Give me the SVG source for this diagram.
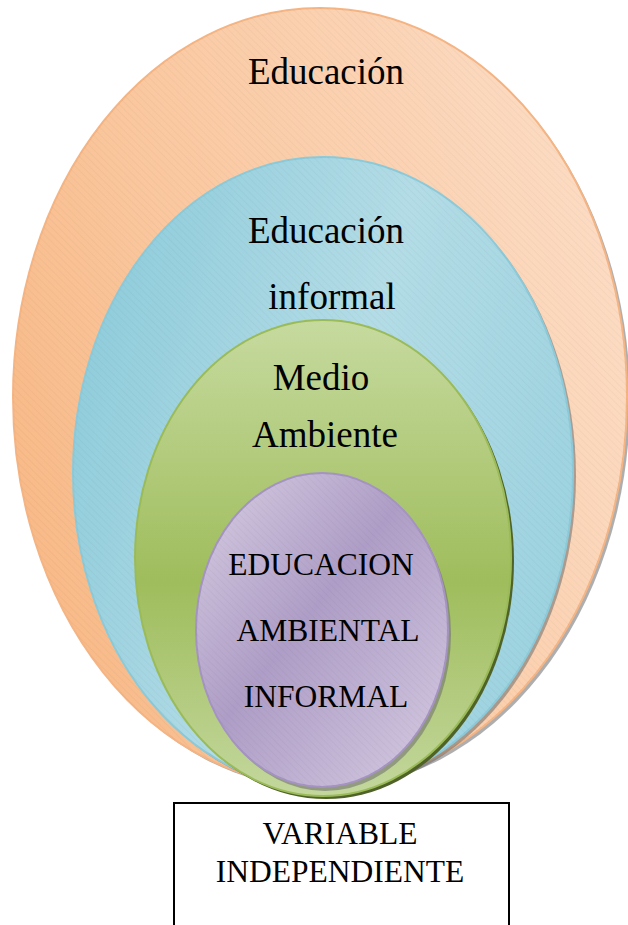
<svg xmlns="http://www.w3.org/2000/svg" width="628" height="925" viewBox="0 0 628 925">
<style>
.t{font-family:"Liberation Serif","Times New Roman",serif;fill:#000;text-anchor:middle}
.big{font-size:37px}
.cap{font-size:31.5px}
.shadow{fill:#6b6b6b;opacity:0.55}
</style>
<defs>
<linearGradient id="gOrange" x1="0" y1="0.6" x2="1" y2="0.2">
<stop offset="0" stop-color="#F8BA88"/>
<stop offset="0.35" stop-color="#FAC8A0"/>
<stop offset="1" stop-color="#FCDDC6"/>
</linearGradient>
<linearGradient id="gBlue" x1="0" y1="0.3" x2="1" y2="0.7">
<stop offset="0" stop-color="#8FCCDB"/>
<stop offset="0.5" stop-color="#B3DCE6"/>
<stop offset="1" stop-color="#9BD2DF"/>
</linearGradient>
<linearGradient id="gGreen" x1="0" y1="0" x2="0" y2="1">
<stop offset="0" stop-color="#C6DA9F"/>
<stop offset="0.55" stop-color="#9FBD5C"/>
<stop offset="1" stop-color="#C3D79D"/>
</linearGradient>
<linearGradient id="gPurple" x1="0" y1="0" x2="1" y2="1">
<stop offset="0" stop-color="#D8CFE3"/>
<stop offset="0.45" stop-color="#AE9DC6"/>
<stop offset="1" stop-color="#D6CCE2"/>
</linearGradient>
<pattern id="hatch" width="5" height="5" patternUnits="userSpaceOnUse" patternTransform="rotate(-45)">
<line x1="0" y1="0" x2="0" y2="5" stroke="#000" stroke-opacity="0.05" stroke-width="1"/>
</pattern>
</defs>

<g id="educacion">
<ellipse class="shadow" cx="323" cy="400" rx="307" ry="389"/>
<ellipse cx="320" cy="397" rx="307" ry="389" fill="url(#gOrange)" stroke="#F5B483" stroke-width="2"/>
<ellipse cx="320" cy="397" rx="307" ry="389" fill="url(#hatch)"/>
<text class="t big" x="326" y="84">Educación</text>
</g>

<g id="educacion-informal">
<ellipse class="shadow" cx="326" cy="476" rx="250" ry="316"/>
<ellipse cx="323" cy="473" rx="250" ry="316" fill="url(#gBlue)" stroke="#8CCAD9" stroke-width="2"/>
<ellipse cx="323" cy="473" rx="250" ry="316" fill="url(#hatch)"/>
<text class="t big" x="326" y="243">Educación</text>
<text class="t big" x="332" y="309">informal</text>
</g>

<g id="medio-ambiente">
<ellipse cx="326" cy="561" rx="188" ry="238" fill="#4F6228"/>
<ellipse cx="323" cy="558" rx="188" ry="238" fill="url(#gGreen)" stroke="#9BBB59" stroke-width="2"/>
<text class="t big" x="321" y="390">Medio</text>
<text class="t big" x="325" y="447">Ambiente</text>
</g>

<g id="educacion-ambiental-informal">
<ellipse class="shadow" cx="325" cy="634" rx="126" ry="157"/>
<ellipse cx="322" cy="630" rx="126" ry="157" fill="url(#gPurple)" stroke="#A593C2" stroke-width="2"/>
<ellipse cx="322" cy="630" rx="126" ry="157" fill="url(#hatch)"/>
<text class="t cap" x="321" y="575">EDUCACION</text>
<text class="t cap" x="328" y="641">AMBIENTAL</text>
<text class="t cap" x="326" y="707">INFORMAL</text>
</g>

<g id="connectors"></g>

<g id="variable-independiente">
<rect x="174" y="803" width="335" height="135" fill="#fff" stroke="#000" stroke-width="2"/>
<text class="t cap" x="340" y="844">VARIABLE</text>
<text class="t cap" x="340" y="882">INDEPENDIENTE</text>
</g>
</svg>
